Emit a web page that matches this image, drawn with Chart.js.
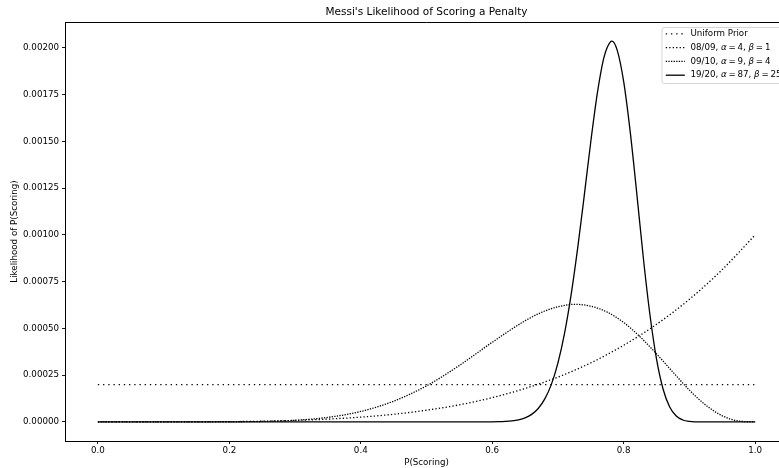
<!DOCTYPE html>
<html><head><meta charset="utf-8">
<script src="https://cdn.jsdelivr.net/npm/chart.js@4.4.1/dist/chart.umd.min.js"></script>
<style>
html,body{margin:0;padding:0;overflow:hidden;background:#fff;width:779px;height:468px}
#wrap{position:absolute;left:0;top:0;width:800px;height:468px}
</style>
</head><body><div id="wrap"><canvas id="c" width="800" height="468"></canvas></div>
<script>
// ---- text ----
const chartTitle = "Messi's Likelihood of Scoring a Penalty";
const xAxisLabel = "P(Scoring)";
const yAxisLabel = "Likelihood of P(Scoring)";
const priorName = "Uniform Prior";
const seasons = ["08/09", "09/10", "19/20"];
const alphas = [4, 9, 87];
const betas = [1, 4, 25];

// ---- ticks & limits ----
const xTicks = [0.0, 0.2, 0.4, 0.6, 0.8, 1.0];
const yTicks = [0, 0.00025, 0.0005, 0.00075, 0.001, 0.00125, 0.0015, 0.00175, 0.002];
const xLimits = [-0.05, 1.05];
const yLimits = [-0.000102, 0.002139];

// ---- series ----
const priorX = [0, 1];
const priorY = [0.0002, 0.0002];

const s0809X = [0, 0.05, 0.1, 0.15, 0.2, 0.25, 0.3, 0.35, 0.4, 0.45, 0.5, 0.55, 0.6, 0.65, 0.7, 0.75, 0.8, 0.85, 0.9, 0.95, 1.0];
const s0809Y = [0, 0.00000001, 0.0000001, 0.0000005, 0.0000016, 0.0000039, 0.0000081, 0.000015, 0.0000256, 0.000041, 0.0000625, 0.0000915, 0.00013, 0.000179, 0.00024, 0.000316, 0.00041, 0.000522, 0.000656, 0.000815, 0.001];

const s0910X = [0, 0.1, 0.15, 0.2, 0.25, 0.3, 0.35, 0.4, 0.45, 0.5, 0.55, 0.6, 0.65, 0.675, 0.7, 0.725, 0.75, 0.775, 0.8, 0.825, 0.85, 0.875, 0.9, 0.925, 0.95, 0.975, 1.0];
const s0910Y = [0, 0.000000003, 0.00000006, 0.00000052, 0.0000025, 0.0000089, 0.0000245, 0.000056, 0.000111, 0.000193, 0.000302, 0.000426, 0.000541, 0.000586, 0.000616, 0.000629, 0.000619, 0.000587, 0.000532, 0.000455, 0.000364, 0.000266, 0.00017, 0.0000895, 0.0000328, 0.000005, 0];

const s1920X = [0, 0.55, 0.58, 0.6, 0.61, 0.62, 0.63, 0.64, 0.65, 0.66, 0.67, 0.68, 0.69, 0.7, 0.71, 0.72, 0.73, 0.74, 0.75, 0.76, 0.77, 0.78, 0.782, 0.79, 0.8, 0.81, 0.82, 0.83, 0.84, 0.85, 0.86, 0.87, 0.88, 0.89, 0.9, 0.91, 0.92, 0.94, 1.0];
const s1920Y = [0, 0, 0.00000005, 0.00000055, 0.0000012, 0.0000027, 0.0000056, 0.0000113, 0.0000218, 0.0000404, 0.000072, 0.000123, 0.000201, 0.000316, 0.000474, 0.00068, 0.00093, 0.00121, 0.0015, 0.00176, 0.00195, 0.002034, 0.002037, 0.00199, 0.00182, 0.00155, 0.00122, 0.000874, 0.000572, 0.000336, 0.000175, 0.00008, 0.0000313, 0.0000103, 0.0000027, 0.00000056, 0.00000009, 0, 0];

// ---- helpers ----
const pts = (xs, ys) => xs.map((x, i) => ({x: x, y: ys[i]}));
const FONT = 'DejaVu Sans';
const BASE = 8.7;
const TS = '\u2009';

function seasonLabelParts(i) {
  return [
    [seasons[i] + ', ', false],
    ['\u03B1', true],
    [TS + '=' + TS + alphas[i] + ', ', false],
    ['\u03B2', true],
    [TS + '=' + TS + betas[i], false]
  ];
}

const datasets = [
  {label: priorName, parts: [[priorName, false]], data: pts(priorX, priorY), borderDash: [1.3, 3.9], order: 3},
  {label: seasonLabelParts(0).map(p => p[0]).join(''), parts: seasonLabelParts(0), data: pts(s0809X, s0809Y), borderDash: [1.3, 2.15], order: 2},
  {label: seasonLabelParts(1).map(p => p[0]).join(''), parts: seasonLabelParts(1), data: pts(s0910X, s0910Y), borderDash: [1.3, 1.3], order: 1},
  {label: seasonLabelParts(2).map(p => p[0]).join(''), parts: seasonLabelParts(2), data: pts(s1920X, s1920Y), borderDash: [], order: 0}
].map(d => Object.assign({
  borderColor: '#000',
  borderWidth: 1.3,
  pointRadius: 0,
  fill: false,
  cubicInterpolationMode: 'monotone',
  borderCapStyle: 'butt'
}, d));

const framePlugin = {
  id: 'mplFrame',
  afterDatasetsDraw(chart) {
    const {ctx, chartArea: a} = chart;
    ctx.save();
    ctx.strokeStyle = '#000';
    ctx.lineWidth = 1;
    ctx.beginPath();
    ctx.moveTo(a.left, Math.round(a.top) + 0.5);
    ctx.lineTo(a.right, Math.round(a.top) + 0.5);
    ctx.moveTo(Math.round(a.right) + 0.5, a.top);
    ctx.lineTo(Math.round(a.right) + 0.5, a.bottom);
    ctx.stroke();

    // legend (upper right, matplotlib style)
    const fs = BASE;
    const R = a.right - 4.5, T = a.top + 5.5, W = 121.5, H = 56;
    const L = R - W;
    const r = 2.5;
    ctx.beginPath();
    ctx.moveTo(L + r, T);
    ctx.lineTo(R - r, T); ctx.quadraticCurveTo(R, T, R, T + r);
    ctx.lineTo(R, T + H - r); ctx.quadraticCurveTo(R, T + H, R - r, T + H);
    ctx.lineTo(L + r, T + H); ctx.quadraticCurveTo(L, T + H, L, T + H - r);
    ctx.lineTo(L, T + r); ctx.quadraticCurveTo(L, T, L + r, T);
    ctx.closePath();
    ctx.fillStyle = 'rgba(255,255,255,0.8)';
    ctx.fill();
    ctx.strokeStyle = '#cccccc';
    ctx.lineWidth = 0.8;
    ctx.stroke();

    const rowH = 13.8;
    chart.data.datasets.forEach((ds, i) => {
      const y = T + 6.3 + i * rowH;
      ctx.strokeStyle = ds.borderColor;
      ctx.lineWidth = ds.borderWidth;
      ctx.setLineDash(ds.borderDash || []);
      ctx.beginPath();
      ctx.moveTo(L + 3.8, y);
      ctx.lineTo(L + 3.8 + 19, y);
      ctx.stroke();
      ctx.setLineDash([]);
      let x = L + 28.5;
      ctx.fillStyle = '#000';
      ctx.textBaseline = 'middle';
      ctx.textAlign = 'left';
      ds.parts.forEach(([txt, ital]) => {
        ctx.font = (ital ? 'italic ' : '') + fs + 'px "' + FONT + '"';
        ctx.fillText(txt, x, y);
        x += ctx.measureText(txt).width;
      });
    });
    ctx.restore();
  }
};

Chart.defaults.font.family = FONT;
Chart.defaults.font.size = BASE;
Chart.defaults.color = '#000';

new Chart(document.getElementById('c'), {
  type: 'line',
  data: {datasets: datasets},
  options: {
    responsive: false,
    animation: false,
    devicePixelRatio: 1,
    parsing: true,
    layout: {padding: {left: 0, right: 12, top: 0, bottom: 0}},
    plugins: {
      legend: {display: false},
      tooltip: {enabled: false},
      title: {
        display: true,
        text: chartTitle,
        fullSize: false,
        color: '#000',
        font: {family: FONT, size: 10.5, weight: 'normal', lineHeight: 1.2},
        padding: {top: 6.4, bottom: 3}
      }
    },
    scales: {
      x: {
        type: 'linear',
        min: xLimits[0],
        max: xLimits[1],
        afterBuildTicks: s => { s.ticks = xTicks.map(v => ({value: v})); },
        afterFit: s => { s.height = 27; s.paddingLeft = 0; s.paddingRight = 0; },
        ticks: {callback: v => Number(v).toFixed(1), padding: 2, maxRotation: 0, autoSkip: false, color: '#000', font: {size: BASE}},
        grid: {drawOnChartArea: false, drawTicks: true, tickLength: 3, tickColor: '#000', tickWidth: 0.9},
        border: {display: true, color: '#000', width: 1},
        title: {display: true, text: xAxisLabel, color: '#000', font: {size: BASE}, padding: {top: 0, bottom: 0}}
      },
      y: {
        type: 'linear',
        min: yLimits[0],
        max: yLimits[1],
        afterBuildTicks: s => { s.ticks = yTicks.map(v => ({value: v})); },
        afterFit: s => { s.width = 65; },
        ticks: {callback: v => Number(v).toFixed(5), padding: 3, autoSkip: false, color: '#000', font: {size: BASE}},
        grid: {drawOnChartArea: false, drawTicks: true, tickLength: 3, tickColor: '#000', tickWidth: 0.9},
        border: {display: true, color: '#000', width: 1},
        title: {display: true, text: yAxisLabel, color: '#000', font: {size: BASE}, padding: {top: 9.6, bottom: 0}}
      }
    }
  },
  plugins: [framePlugin]
});
</script>
</body></html>
